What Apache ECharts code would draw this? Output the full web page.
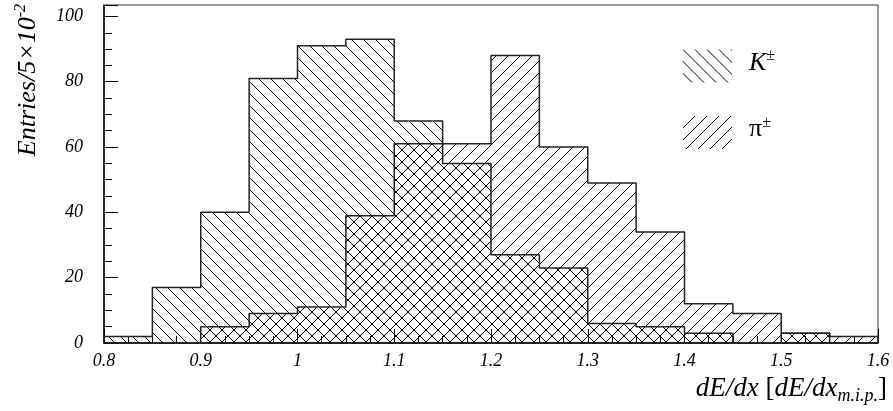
<!DOCTYPE html>
<html>
<head>
<meta charset="utf-8">
<script src="https://cdn.jsdelivr.net/npm/echarts@6/dist/echarts.min.js"></script>
<style>
html,body{margin:0;padding:0;background:#fff;}
#chart{width:893px;height:411px;}
</style>
</head>
<body>
<div id="chart"></div>
<script>
// Bin edges (dE/dx in units of dE/dx m.i.p.)
const binEdges = [0.80,0.85,0.90,0.95,1.00,1.05,1.10,1.15,1.20,1.25,1.30,1.35,1.40,1.45,1.50,1.55,1.60];
// Entries per bin
const kaonCounts = [2,17,40,81,91,93,68,55,27,23,6,5,3,0,3,0];
const pionCounts = [0,0,5,9,11,39,61,61,88,60,49,34,12,9,3,2];
const seriesNames = ['K', 'π'];
const yTicks = [0,20,40,60,80,100];
const xTicks = [0.8,0.9,1,1.1,1.2,1.3,1.4,1.5,1.6];

const SERIF = '"Liberation Serif", "DejaVu Serif", serif';

function hatch(up) {
  const n = 12;
  const c = document.createElement('canvas');
  c.width = n; c.height = n;
  const g = c.getContext('2d');
  g.fillStyle = '#000';
  for (let i = 0; i < n; i++) {
    g.fillRect(i, up ? n - 1 - i : i, 1, 1);
  }
  return c;
}
const kPattern = { image: hatch(false), repeat: 'repeat' };
const piPattern = { image: hatch(true), repeat: 'repeat' };

function binData(counts) {
  return counts.map((v, i) => [binEdges[i], binEdges[i + 1], v]);
}
function outlineData(counts) {
  const d = [[binEdges[0], 0]];
  counts.forEach((v, i) => d.push([binEdges[i], v]));
  d.push([binEdges[binEdges.length - 1], 0]);
  return d;
}
function makeRender(pattern) {
  return function (params, api) {
    const x0 = api.value(0), x1 = api.value(1), v = api.value(2);
    if (!v) return null;
    const p0 = api.coord([x0, v]);
    const p1 = api.coord([x1, 0]);
    return {
      type: 'rect',
      shape: { x: p0[0], y: p0[1], width: p1[0] - p0[0], height: p1[1] - p0[1] },
      style: { fill: pattern, stroke: null }
    };
  };
}

const chart = echarts.init(document.getElementById('chart'), null, { renderer: 'canvas' });
chart.setOption({
  animation: false,
  backgroundColor: '#fff',
  grid: {
    left: 104, right: 15, top: 5, bottom: 68,
    show: true, borderColor: '#333', borderWidth: 1, backgroundColor: 'transparent'
  },
  legend: {
    data: seriesNames,
    orient: 'vertical',
    left: 683, top: 48,
    padding: 0,
    itemWidth: 49, itemHeight: 33, itemGap: 32,
    icon: 'rect',
    selectedMode: false,
    formatter: function (name) {
      return name === 'K' ? '{k|K}{sup|±}' : '{p|π}{sup|±}';
    },
    textStyle: {
      padding: [0, 0, 6, 12],
      rich: {
        k: { fontFamily: SERIF, fontStyle: 'italic', fontSize: 26, color: '#000' },
        p: { fontFamily: SERIF, fontSize: 26, color: '#000' },
        sup: { fontFamily: SERIF, fontSize: 16, color: '#000', padding: [0, 0, 14, 0] }
      }
    }
  },
  xAxis: {
    type: 'value',
    min: 0.8, max: 1.6, interval: 0.1,
    name: '{a|dE/dx }{b|[}{a|dE/dx}{s|m.i.p.}{b|]}',
    nameLocation: 'end',
    nameGap: 9,
    nameTextStyle: {
      align: 'right', verticalAlign: 'top',
      padding: [29, 0, 0, 0],
      rich: {
        a: { fontFamily: SERIF, fontStyle: 'italic', fontSize: 27, color: '#000' },
        b: { fontFamily: SERIF, fontSize: 27, color: '#000' },
        s: { fontFamily: SERIF, fontStyle: 'italic', fontSize: 18, color: '#000', padding: [15, 0, 0, 0] }
      }
    },
    axisLine: { show: true, onZero: false, lineStyle: { color: '#000', width: 1.5 } },
    axisTick: { show: true, inside: true, length: 14, lineStyle: { color: '#000', width: 1 } },
    minorTick: { show: true, splitNumber: 4, length: 7, lineStyle: { color: '#000', width: 1 } },
    splitLine: { show: false },
    axisLabel: {
      margin: 9,
      fontFamily: SERIF, fontStyle: 'italic', fontSize: 18, color: '#000',
      formatter: function (v) {
        const t = xTicks.find(x => Math.abs(x - v) < 1e-6);
        return t === undefined ? '' : String(t);
      }
    }
  },
  yAxis: {
    type: 'value',
    min: 0, max: 103.5, interval: 20,
    axisLine: { show: true, lineStyle: { color: '#000', width: 1.5 } },
    axisTick: { show: true, inside: true, length: 14, lineStyle: { color: '#000', width: 1 } },
    minorTick: { show: true, splitNumber: 4, length: 8, lineStyle: { color: '#000', width: 1 } },
    splitLine: { show: false },
    axisLabel: {
      margin: 21,
      fontFamily: SERIF, fontStyle: 'italic', fontSize: 18, color: '#000',
      formatter: function (v) {
        return yTicks.indexOf(v) >= 0 ? String(v) : '';
      }
    }
  },
  graphic: [{
    type: 'text',
    x: 28, y: 4,
    rotation: Math.PI / 2,
    style: {
      text: '{a|Entries/5×10}{s|-2}',
      align: 'right', verticalAlign: 'middle',
      rich: {
        a: { fontFamily: SERIF, fontStyle: 'italic', fontSize: 26, fill: '#000' },
        s: { fontFamily: SERIF, fontStyle: 'italic', fontSize: 16, fill: '#000', padding: [0, 0, 14, 0] }
      }
    }
  }],
  series: [
    {
      name: 'K', type: 'custom',
      itemStyle: { color: kPattern, borderColor: '#000', borderWidth: 0 },
      renderItem: makeRender(kPattern),
      data: binData(kaonCounts), z: 2
    },
    {
      name: 'π', type: 'custom',
      itemStyle: { color: piPattern, borderColor: '#000', borderWidth: 0 },
      renderItem: makeRender(piPattern),
      data: binData(pionCounts), z: 2
    },
    {
      name: 'K outline', type: 'line', step: 'end', symbol: 'none',
      lineStyle: { color: '#222', width: 1.5 },
      data: outlineData(kaonCounts), z: 3
    },
    {
      name: 'π outline', type: 'line', step: 'end', symbol: 'none',
      lineStyle: { color: '#222', width: 1.5 },
      data: outlineData(pionCounts), z: 3
    }
  ]
});
</script>
</body>
</html>
